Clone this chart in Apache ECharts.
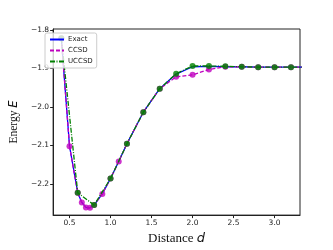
<!DOCTYPE html>
<html><head><meta charset="utf-8">
<script src="https://cdn.jsdelivr.net/npm/echarts@6/dist/echarts.min.js"></script>
<style>html,body{margin:0;padding:0;background:#fff}#c{width:333px;height:250px}</style>
</head><body><div id="c"></div>
<script>
const xCCSD = [0.4, 0.5, 0.6, 0.65, 0.7, 0.75, 0.8, 0.9, 1.0, 1.1, 1.2, 1.4, 1.6, 1.8, 2.0, 2.2, 2.4, 2.6, 2.8, 3.0, 3.2, 3.4];
const exactE = [-1.822, -2.102, -2.223, -2.248, -2.261, -2.262, -2.255, -2.226, -2.186, -2.142, -2.096, -2.014, -1.953, -1.915, -1.896, -1.895, -1.896, -1.896, -1.897, -1.897, -1.897, -1.897];
const ccsdE  = [-1.822, -2.102, -2.223, -2.248, -2.261, -2.262, -2.255, -2.226, -2.186, -2.142, -2.096, -2.014, -1.953, -1.922, -1.917, -1.903, -1.896, -1.896, -1.897, -1.897, -1.897, -1.897];
const xUCCSD = [0.4, 0.6, 0.8, 1.0, 1.2, 1.4, 1.6, 1.8, 2.0, 2.2, 2.4, 2.6, 2.8, 3.0, 3.2, 3.4];
const uccsdE = [-1.822, -2.223, -2.255, -2.186, -2.096, -2.014, -1.953, -1.914, -1.894, -1.894, -1.895, -1.896, -1.897, -1.897, -1.897, -1.897];
const xTicks = [0.5, 1.0, 1.5, 2.0, 2.5, 3.0];
const yTicks = [-2.2, -2.1, -2.0, -1.9, -1.8];

const pairs = (xs, ys) => xs.map((x, i) => [x, ys[i]]);
const BLUE = '#0000ff', MAG = '#bf00bf', GRN = '#008000';
const tickFont = {fontFamily: 'DejaVu Sans', fontSize: 7.5, color: '#222'};

const chart = echarts.init(document.getElementById('c'), null, {renderer: 'canvas'});
chart.setOption({
  animation: false,
  grid: {left: 42, right: 33, top: 29, bottom: 28, show: true, borderColor: '#222', borderWidth: 1, backgroundColor: 'transparent'},
  legend: {
    data: ['Exact', 'CCSD', 'UCCSD'],
    orient: 'vertical', left: 45, top: 33,
    itemWidth: 14, itemHeight: 6, itemGap: 4,
    padding: [3, 4, 3, 4],
    backgroundColor: 'rgba(255,255,255,0.8)',
    borderColor: '#ccc', borderWidth: 1, borderRadius: 2,
    itemStyle: {opacity: 0},
    textStyle: {fontFamily: 'DejaVu Sans', fontSize: 7, color: '#222', padding: [0, 0, 0, -1]},
    z: 10
  },
  xAxis: {
    type: 'value', min: 0.3, max: 3.31,
    name: 'Distance {i|d}', nameLocation: 'middle', nameGap: 15,
    nameTextStyle: {fontFamily: 'Liberation Serif', fontSize: 13, color: '#111',
      rich: {i: {fontFamily: 'DejaVu Sans', fontStyle: 'italic', fontSize: 13, color: '#111'}}},
    axisLine: {show: true, lineStyle: {color: '#222', width: 1}},
    axisTick: {show: true, length: 3, lineStyle: {color: '#222'}, customValues: xTicks},
    axisLabel: {...tickFont, margin: 4, customValues: xTicks, formatter: v => v.toFixed(1)},
    splitLine: {show: false}
  },
  yAxis: {
    type: 'value', min: -2.281, max: -1.798,
    name: 'Energy {i|E}', nameLocation: 'middle', nameGap: 30, nameRotate: 90,
    nameTextStyle: {fontFamily: 'Liberation Serif', fontSize: 11.5, color: '#111',
      rich: {i: {fontFamily: 'DejaVu Sans', fontStyle: 'italic', fontSize: 11.5, color: '#111'}}},
    axisLine: {show: true, lineStyle: {color: '#222', width: 1}},
    axisTick: {show: true, length: 3, lineStyle: {color: '#222'}, customValues: yTicks},
    axisLabel: {...tickFont, margin: 4, customValues: yTicks, formatter: v => (v < 0 ? '\u2212' : '') + Math.abs(v).toFixed(1)},
    splitLine: {show: false}
  },
  series: [
    {name: 'Exact', type: 'line', data: pairs(xCCSD, exactE), symbol: 'none', clip: true,
     lineStyle: {color: BLUE, width: 1.3}, itemStyle: {color: BLUE}, z: 2},
    {name: 'CCSD', type: 'line', data: pairs(xCCSD, ccsdE), symbol: 'none', clip: true,
     lineStyle: {color: MAG, width: 1.3, type: [4, 2]}, itemStyle: {color: MAG}, z: 3},
    {name: 'CCSD pts', type: 'scatter', data: pairs(xCCSD, ccsdE), symbol: 'circle', symbolSize: 6, clip: true,
     itemStyle: {color: MAG}, z: 3},
    {name: 'UCCSD', type: 'line', data: pairs(xUCCSD, uccsdE), symbol: 'none', clip: true,
     lineStyle: {color: GRN, width: 1.3, type: [5, 1.5, 1, 1.5]}, itemStyle: {color: GRN}, z: 4},
    {name: 'UCCSD pts', type: 'scatter', data: pairs(xUCCSD, uccsdE), symbol: 'circle', symbolSize: 6, clip: true,
     itemStyle: {color: GRN}, z: 4}
  ]
});
</script></body></html>
